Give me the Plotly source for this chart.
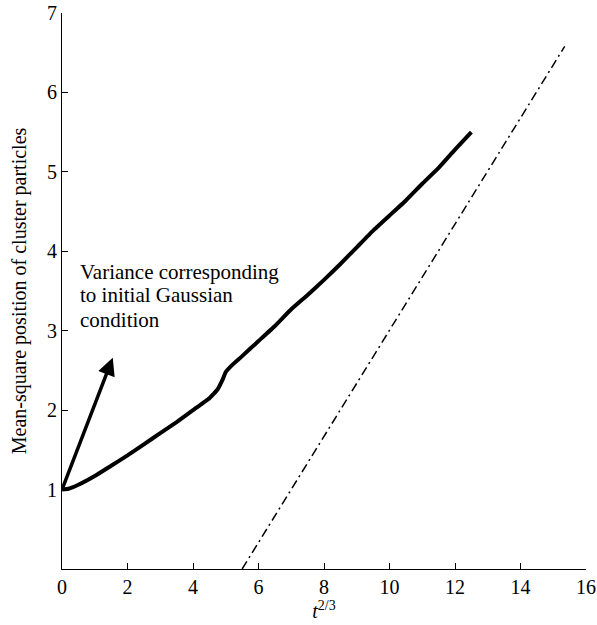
import plotly.graph_objects as go

# Main curve: mean-square position vs t^(2/3)
curve_x = [0, 0.2, 0.5, 1.0, 1.5, 2.0, 2.5, 3.0, 3.5, 4.0, 4.5, 4.75, 4.9, 5.0, 5.2,
           5.5, 6.0, 6.5, 7.0, 7.5, 8.0, 8.5, 9.0, 9.5, 10.0, 10.5, 11.0, 11.5, 12.0, 12.5]
curve_y = [1.0, 1.01, 1.06, 1.17, 1.3, 1.43, 1.57, 1.71, 1.85, 2.0, 2.15, 2.26, 2.38, 2.48, 2.57,
           2.68, 2.87, 3.06, 3.27, 3.45, 3.64, 3.84, 4.05, 4.26, 4.45, 4.64, 4.85, 5.05, 5.28, 5.50]

# Asymptotic reference line (dash-dot)
ref_x = [5.5, 15.35]
ref_y = [0.0, 6.58]

# Arrow for the initial Gaussian variance
arrow_tail = (0.0, 1.0)
arrow_head = (1.55, 2.66)

note_lines = ["Variance corresponding", "to initial Gaussian", "condition"]
note_y = [3.74, 3.45, 3.14]

x_ticks = [0, 2, 4, 6, 8, 10, 12, 14, 16]
y_ticks = [1, 2, 3, 4, 5, 6, 7]

FONT = "Liberation Serif, Times New Roman, serif"

fig = go.Figure()
fig.add_trace(go.Scatter(x=curve_x, y=curve_y, mode="lines",
                         line=dict(color="black", width=4, shape="spline", smoothing=0.3),
                         showlegend=False, hoverinfo="skip"))
fig.add_trace(go.Scatter(x=ref_x, y=ref_y, mode="lines",
                         line=dict(color="black", width=1.5, dash="9px,4px,2px,4px"),
                         showlegend=False, hoverinfo="skip"))

fig.add_annotation(x=arrow_head[0], y=arrow_head[1], ax=arrow_tail[0], ay=arrow_tail[1],
                   xref="x", yref="y", axref="x", ayref="y", text="", showarrow=True,
                   arrowhead=2, arrowsize=1.0, arrowwidth=3.5, arrowcolor="black",
                   standoff=0, startstandoff=0)

for txt, yy in zip(note_lines, note_y):
    fig.add_annotation(x=0.48, y=yy, xref="x", yref="y", text=txt, showarrow=False,
                       xanchor="left", yanchor="middle",
                       font=dict(family=FONT, size=21, color="black"))

fig.update_layout(
    width=597, height=625,
    margin=dict(l=62, r=11, t=13, b=56),
    paper_bgcolor="white", plot_bgcolor="white",
    font=dict(family=FONT, size=20, color="black"),
    xaxis=dict(range=[0, 16], tickvals=x_ticks, ticks="inside", ticklen=6, tickwidth=1,
               tickcolor="black", showline=True, linecolor="black", linewidth=1.2,
               showgrid=False, zeroline=False, ticklabeloverflow="allow", automargin=False,
               tickfont=dict(family=FONT, size=20),
               title=dict(text="<i>t</i><sup>2/3</sup>", standoff=4,
                          font=dict(family=FONT, size=20))),
    yaxis=dict(range=[0, 7], tickvals=y_ticks, ticks="inside", ticklen=6, tickwidth=1,
               tickcolor="black", showline=True, linecolor="black", linewidth=1.2,
               showgrid=False, zeroline=False, automargin=False,
               tickfont=dict(family=FONT, size=20),
               title=dict(text="Mean-square position of cluster particles", standoff=14,
                          font=dict(family=FONT, size=20))),
)

fig.write_html("out.html")
